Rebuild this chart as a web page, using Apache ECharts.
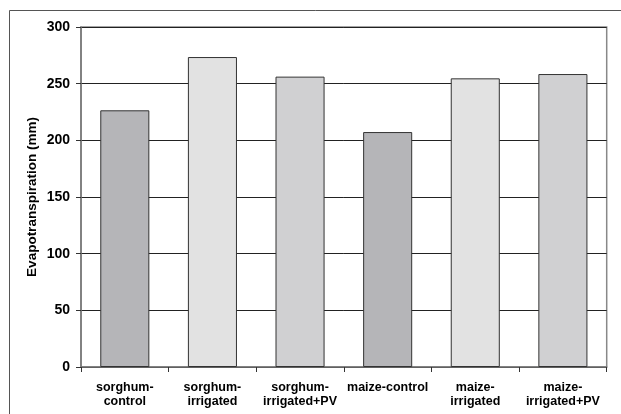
<!DOCTYPE html>
<html><head><meta charset="utf-8">
<script src="https://cdn.jsdelivr.net/npm/echarts@6/dist/echarts.min.js"></script>
<style>html,body{margin:0;padding:0;background:#fff}#c{width:621px;height:414px}</style>
</head><body><div id="c"></div>
<script>
const categories = ['sorghum-\ncontrol','sorghum-\nirrigated','sorghum-\nirrigated+PV','maize-control','maize-\nirrigated','maize-\nirrigated+PV'];
const values = [226.5, 273.5, 256.2, 207.3, 254.7, 258.5];
const barColors = ['#b5b5b8','#e2e2e2','#d0d0d2','#b5b5b8','#e2e2e2','#d0d0d2'];
const yTicks = {min:0, max:300, interval:50};
const yTitle = 'Evapotranspiration (mm)';

const chart = echarts.init(document.getElementById('c'), null, {renderer:'canvas'});
chart.setOption({
  animation:false,
  backgroundColor:'#fff',
  graphic:[
    {type:'rect', shape:{x:9.5,y:10.5,width:640,height:440}, style:{fill:'none',stroke:'#555',lineWidth:1}, z:-1},
    {type:'rect', shape:{x:81,y:27,width:525.7,height:340}, style:{fill:'none',stroke:'#888',lineWidth:1.5}, z:0},
    {type:'text', x:32, y:197, rotation:Math.PI/2,
     style:{text:yTitle, fill:'#000', font:'bold 13.5px "Liberation Sans", Arial, sans-serif', textAlign:'center', textVerticalAlign:'middle'}}
  ],
  grid:{left:81, top:27, width:525.7, height:340, containLabel:false},
  xAxis:{
    type:'category', data:categories,
    axisLine:{lineStyle:{color:'#777',width:1.5}},
    axisTick:{show:true, length:5, inside:false, lineStyle:{color:'#333'}},
    axisLabel:{interval:0, margin:14, color:'#000', fontFamily:'Liberation Sans, Arial, sans-serif', fontWeight:'bold', fontSize:12.5, lineHeight:14}
  },
  yAxis:{
    type:'value', min:yTicks.min, max:yTicks.max, interval:yTicks.interval,
    axisLine:{show:true, lineStyle:{color:'#777',width:1.5}},
    axisTick:{show:true, length:5, lineStyle:{color:'#333'}},
    splitLine:{show:true, lineStyle:{color:'#222',width:1}},
    axisLabel:{margin:11, color:'#000', fontFamily:'Liberation Sans, Arial, sans-serif', fontWeight:'bold', fontSize:14}
  },
  series:[{
    type:'bar',
    data:values.map((v,i)=>({value:v, itemStyle:{color:barColors[i]}})),
    barWidth:'56%',
    itemStyle:{borderColor:'#333', borderWidth:1}
  }]
});
</script></body></html>
